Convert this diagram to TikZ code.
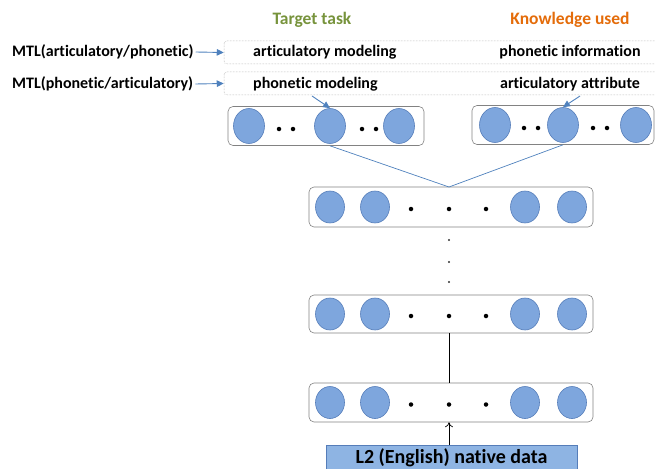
\documentclass[tikz,border=0pt]{standalone}
\usepackage{fontspec}
\setmainfont[Ligatures=CommonOff]{Carlito}
\usetikzlibrary{shapes.geometric,arrows.meta}
\definecolor{cfill}{RGB}{126,166,221}
\definecolor{cedge}{RGB}{85,125,185}
\definecolor{cline}{RGB}{79,129,189}
\definecolor{cgreen}{RGB}{119,147,60}
\definecolor{corange}{RGB}{228,108,10}
\definecolor{cbox}{RGB}{130,130,130}
\definecolor{cl2}{RGB}{142,180,227}
\begin{document}
\begin{tikzpicture}[x=1pt,y=-1pt,
  lbl/.style={font=\bfseries\fontsize{16}{19}\selectfont, inner sep=0pt},
  ttl/.style={font=\bfseries\fontsize{17.5}{21}\selectfont, inner sep=0pt},
  neurontop/.style={ellipse, draw=cedge, fill=cfill, line width=0.6pt, minimum width=31pt, minimum height=35pt, inner sep=0pt},
  neuron/.style={ellipse, draw=cedge, fill=cfill, line width=0.6pt, minimum width=29pt, minimum height=32pt, inner sep=0pt},
  ndot/.style={circle, fill=black, inner sep=0pt, minimum size=4.5pt},
  sdot/.style={circle, fill=black!80, inner sep=0pt, minimum size=2.2pt},
  layerbox/.style={draw=cbox, rounded corners=5pt, line width=0.6pt, inner sep=0pt},
  taskbox/.style={draw=cbox!80, densely dotted, rounded corners=3pt, line width=0.5pt, inner sep=0pt, minimum width=440pt, minimum height=23pt},
  bluearrow/.style={draw=cline, line width=0.9pt, -{Triangle[length=7pt,width=6.5pt]}},
  blueline/.style={draw=cline, line width=0.7pt}
]
\useasboundingbox (0,0) rectangle (655,468);
\clip (0,0) rectangle (655,468);

% titles
\node[ttl, text=cgreen] (tt) at (312,20) {Target task};
\node[ttl, text=corange] (ku) at (570,20) {Knowledge used};

% task boxes
\node[taskbox] (box1) at (444,52.5) {};
\node[taskbox] (box2) at (444,83.5) {};
\node[lbl, anchor=west] (am) at (253,52) {articulatory modeling};
\node[lbl] (pi) at (570,52) {phonetic information};
\node[lbl, anchor=west] (pm) at (253,84) {phonetic modeling};
\node[lbl] (aa) at (570,84) {articulatory attribute};

% MTL labels
\node[lbl, anchor=west] (mtl1) at (12,52) {MTL(articulatory/phonetic)};
\node[lbl, anchor=west] (mtl2) at (12,84) {MTL(phonetic/articulatory)};
\draw[bluearrow] (mtl1.east) ++(2,0) coordinate (m1s) -- (box1.west);
\draw[bluearrow] (mtl2.east) ++(2,0) coordinate (m2s) -- (box2.west);

% top task-specific layers
\node[layerbox, minimum width=196pt, minimum height=39pt] (tl) at (326,126) {};
\node[layerbox, minimum width=182pt, minimum height=39pt] (tr) at (563,125) {};
\node[neurontop] (l1) at (249,126) {};
\node[neurontop] (l2) at (330,126) {};
\node[neurontop] (l3) at (399,126) {};
\node[ndot] at (279,129) {};
\node[ndot] at (293,129) {};
\node[ndot] at (362,129) {};
\node[ndot] at (376,129) {};
\node[neurontop] (r1) at (495,125) {};
\node[neurontop] (r2) at (563,125) {};
\node[neurontop] (r3) at (636,125) {};
\node[ndot] at (524,128) {};
\node[ndot] at (538,128) {};
\node[ndot] at (593,128) {};
\node[ndot] at (607,128) {};

\coordinate (pmtail) at (312,96);
\coordinate (aatail) at (580,96);
\draw[bluearrow] (pmtail) -- (l2.north);
\draw[bluearrow] (aatail) -- (r2.north);

% shared layers
\node[layerbox, minimum width=284pt, minimum height=40pt] (s1) at (451,207) {};
\node[layerbox, minimum width=284pt, minimum height=38pt] (s2) at (451,314) {};
\node[layerbox, minimum width=284pt, minimum height=39pt] (s3) at (451,402.5) {};
\foreach \n/\y in {a/207,b/314,c/402.5}{
  \node[neuron] (\n1) at (330,\y) {};
  \node[neuron] (\n2) at (375,\y) {};
  \node[neuron] (\n3) at (525,\y) {};
  \node[neuron] (\n4) at (572,\y) {};
  \node[ndot] (\n d1) at (411,\y+2) {};
  \node[ndot] (\n d2) at (449,\y+2) {};
  \node[ndot] (\n d3) at (486,\y+2) {};
}
\node[sdot] (v1) at (449,240) {};
\node[sdot] (v2) at (449,262) {};
\node[sdot] (v3) at (449,282) {};

\coordinate (join) at (449,187);
\draw[blueline] (tl.south -| l2) -- (join);
\draw[blueline] (tr.south -| r2) -- (join);

\draw[line width=0.8pt] (s2.south -| bd2) -- (s3.north -| cd2);

% input
\node[font=\bfseries\fontsize{20}{24}\selectfont, inner sep=0pt, fill=cl2, draw=cedge, line width=0.5pt, minimum width=251pt, minimum height=26pt] (in) at (451.5,458) {L2 (English) native data};
\draw[line width=0.7pt, -{To[length=5pt,width=8pt]}] (in.north -| cd2) -- (s3.south -| cd2);
\end{tikzpicture}
\end{document}
